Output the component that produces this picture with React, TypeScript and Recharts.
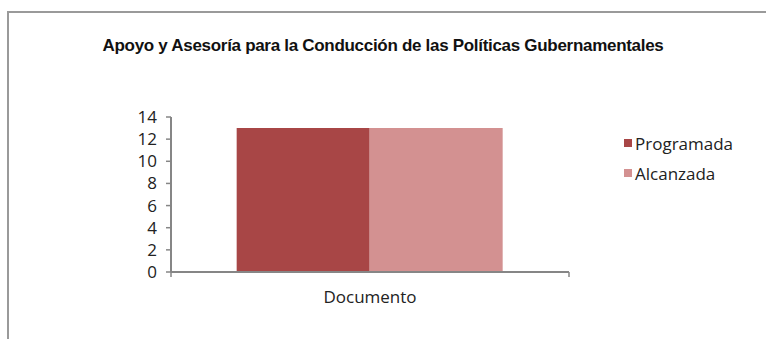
import React from "react";
import { BarChart, Bar, XAxis, YAxis, Legend } from "recharts";

const categories = ["Documento"];
const programada = [13];
const alcanzada = [13];
const yTicks = [0, 2, 4, 6, 8, 10, 12, 14];
const seriesOrder = ["Programada", "Alcanzada"];
const title = "Apoyo y Asesoría para la Conducción de las Políticas Gubernamentales";

const data = categories.map((c, i) => ({ name: c, Programada: programada[i], Alcanzada: alcanzada[i] }));

const FONT = "'Open Sans', sans-serif";
const AXIS = "#868686";

const XTick = (props: any) => {
  const { x, y, payload, width } = props;
  const half = (width || 0) / 2;
  return (
    <g>
      <line x1={x - half} y1={y} x2={x - half} y2={y + 5} stroke={AXIS} strokeWidth={1.5} />
      <line x1={x + half} y1={y} x2={x + half} y2={y + 5} stroke={AXIS} strokeWidth={1.5} />
      <text x={x} y={y + 31} textAnchor="middle" fontFamily={FONT} fontSize={17} fill="#222">
        {payload.value}
      </text>
    </g>
  );
};

const LegendContent = (props: any) => {
  const items = [...(props.payload || [])].sort(
    (a: any, b: any) => seriesOrder.indexOf(a.value) - seriesOrder.indexOf(b.value)
  );
  return (
    <div style={{ fontFamily: FONT, fontSize: 17, color: "#222", width: 140 }}>
      {items.map((p: any) => (
        <div key={p.value} style={{ display: "flex", alignItems: "center", height: 30 }}>
          <span style={{ display: "inline-block", width: 8, height: 8, background: p.color, marginRight: 3 }} />
          <span>{p.value}</span>
        </div>
      ))}
    </div>
  );
};

export default function App() {
  return (
    <div style={{ position: "absolute", left: 0, top: 0, width: 766, height: 339, background: "#fff", overflow: "hidden" }}>
      <div
        style={{
          position: "absolute",
          left: 7,
          top: 11,
          width: 770,
          height: 340,
          borderTop: "2px solid #9a9a9a",
          borderLeft: "2px solid #9a9a9a",
        }}
      />
      <div
        style={{
          position: "absolute",
          left: 0,
          width: 766,
          top: 36,
          textAlign: "center",
          fontFamily: "'Liberation Sans', Arial, sans-serif",
          fontWeight: "bold",
          fontSize: 17,
          letterSpacing: -0.3,
          color: "#111",
        }}
      >
        {title}
      </div>
      <div style={{ position: "absolute", left: 0, top: 0 }}>
        <BarChart
          width={766}
          height={339}
          data={data}
          margin={{ top: 117, right: 57, bottom: 37, left: 131 }}
          barCategoryGap="16.5%"
          barGap={0}
        >
          <XAxis
            dataKey="name"
            axisLine={{ stroke: AXIS, strokeWidth: 2 }}
            tickLine={false}
            tickSize={0}
            tickMargin={0}
            height={30}
            tick={<XTick />}
            interval={0}
          />
          <YAxis
            domain={[0, 14]}
            ticks={yTicks}
            interval={0}
            width={40}
            axisLine={{ stroke: AXIS, strokeWidth: 2 }}
            tickLine={{ stroke: AXIS, strokeWidth: 1.5 }}
            tickSize={5}
            tickMargin={9}
            tick={{ fontFamily: FONT, fontSize: 17, fill: "#222" }}
          />
          <Legend
            layout="vertical"
            align="right"
            verticalAlign="middle"
            content={<LegendContent />}
            wrapperStyle={{ position: "absolute", left: 624, top: 128, width: 140 }}
          />
          <Bar dataKey="Programada" fill="#A84646" isAnimationActive={false} />
          <Bar dataKey="Alcanzada" fill="#D39191" isAnimationActive={false} />
        </BarChart>
      </div>
    </div>
  );
}
